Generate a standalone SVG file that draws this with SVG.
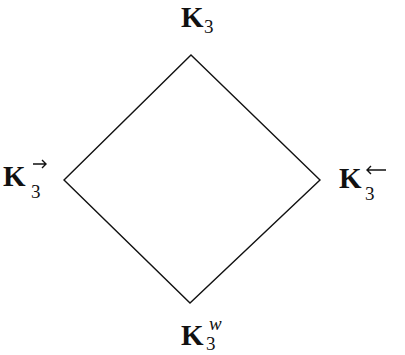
<svg xmlns="http://www.w3.org/2000/svg" width="405" height="355" viewBox="0 0 405 355">
<style>
.k{font-family:"Liberation Serif",serif;font-weight:bold;font-size:29px;fill:#111}
.s{font-family:"Liberation Serif",serif;font-size:19px;fill:#111}
.e{fill:none;stroke:#111;stroke-width:1.4}
</style>
<rect width="405" height="355" fill="#fff"/>
<g id="connectors">
<polygon class="e" points="191,55 320,180 190,303 64,180"/>
</g>
<g id="top">
<text class="k" x="181" y="27">K</text><text class="s" x="204" y="33">3</text>
</g>
<g id="left">
<text class="k" x="3" y="186">K</text><text class="s" x="31" y="198">3</text>
<path class="e" d="M33,164 H46 M42,160 L46,164 L42,168"/>
</g>
<g id="right">
<text class="k" x="339" y="188">K</text><text class="s" x="365" y="200">3</text>
<path class="e" d="M386,170 H367 M371,166 L367,170 L371,174"/>
</g>
<g id="bottom">
<text class="k" x="181" y="345">K</text><text class="s" x="206" y="350">3</text>
<text class="s" x="209" y="330" font-style="italic">w</text>
</g>
</svg>
